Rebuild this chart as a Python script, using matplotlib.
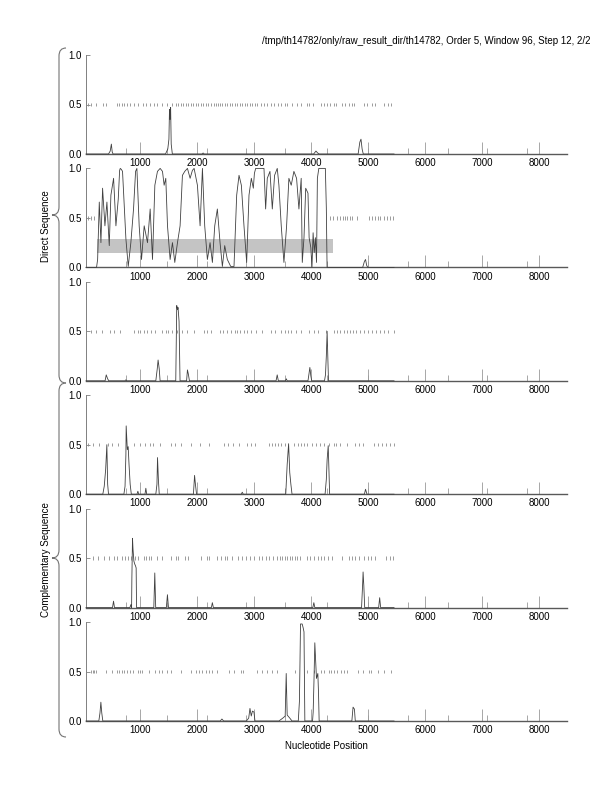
#!/usr/bin/env python3
"""Six-frame coding potential plot (direct + complementary strands)."""
import matplotlib

matplotlib.use("Agg")
import matplotlib.pyplot as plt
from matplotlib.path import Path
from matplotlib.patches import PathPatch

plt.rcParams["font.family"] = ["Liberation Sans", "DejaVu Sans"]

TITLE = "/tmp/th14782/only/raw_result_dir/th14782, Order 5, Window 96, Step 12, 2/2"
XLABEL = "Nucleotide Position"
XLIM = (45, 8485)
MAJOR_TICKS = [1000, 2000, 3000, 4000, 5000, 6000, 7000, 8000]
MINOR_TICKS = [750, 1460, 2160, 2860, 3540, 4280, 4990, 5690, 6390, 7090, 7790]
Y_TICKS = [0.0, 0.5, 1.0]

# frame 1 (direct)
F1_X = [45, 440, 470, 490, 505, 520, 1440, 1480, 1500, 1510, 1520, 1530, 1540, 1560,
        2080, 2100, 2120, 4040, 4080, 4110, 4140, 4820, 4850, 4870, 4890, 4910, 5450]
F1_Y = [0, 0, 0.03, 0.10, 0.02, 0, 0, 0.05, 0.15, 0.45, 0.35, 0.47, 0.10, 0,
        0, 0.01, 0, 0, 0.03, 0.01, 0, 0, 0.12, 0.15, 0.05, 0, 0]
F1_STOPS = [73, 132, 219, 336, 395, 587, 628, 669, 716, 762, 809, 891, 961, 1037, 1095,
            1171, 1241, 1299, 1387, 1475, 1562, 1621, 1661, 1708, 1755, 1796, 1837, 1883,
            1930, 1971, 2012, 2058, 2105, 2146, 2187, 2234, 2292, 2327, 2362, 2397, 2438,
            2479, 2525, 2572, 2613, 2654, 2701, 2747, 2788, 2829, 2876, 2922, 2963, 3004,
            3051, 3109, 3168, 3226, 3284, 3343, 3413, 3471, 3530, 3576, 3664, 3751, 3821,
            3927, 3955, 4032, 4171, 4218, 4277, 4335, 4393, 4440, 4539, 4597, 4656, 4714,
            4743, 4918, 4977, 5064, 5123, 5269, 5339, 5397]

# frame 2 (direct) - the predicted coding region
F2_X = [45, 230, 249, 278, 307, 336, 377, 412, 453, 482, 529, 570, 611, 635, 646, 665,
        686, 745, 786, 832, 879, 915, 938, 978, 1019, 1066, 1124, 1171, 1212, 1253, 1299,
        1346, 1387, 1416, 1445, 1475, 1521, 1562, 1603, 1650, 1696, 1737, 1778, 1825,
        1872, 1912, 1942, 2000, 2047, 2088, 2128, 2175, 2222, 2263, 2304, 2350, 2397,
        2438, 2479, 2525, 2584, 2642, 2689, 2730, 2771, 2817, 2864, 2905, 2946, 2981,
        3000, 3022, 3168, 3197, 3226, 3273, 3314, 3354, 3401, 3430, 3471, 3518, 3565,
        3605, 3646, 3693, 3740, 3781, 3821, 3840, 3870, 3900, 3940, 3960, 3990, 4010,
        4030, 4050, 4070, 4090, 4105, 4130, 4245, 4262, 4275, 4900, 4930, 4950, 4970,
        4990, 5450]
F2_Y = [0, 0, 0.08, 0.66, 0.25, 0.80, 0.42, 0.66, 0.22, 0.73, 0.90, 0.42, 0.69, 0.98, 1.0,
        0.99, 0.97, 0.29, 0.01, 0.25, 0.59, 0.97, 1.0, 0.42, 0.08, 0.42, 0.25, 0.59, 0.08,
        0.83, 0.97, 1.0, 0.97, 0.83, 0.90, 0.42, 0.08, 0.25, 0.05, 0.25, 0.42, 0.93, 0.97,
        1.0, 0.90, 0.98, 1.0, 0.83, 0.42, 1.0, 0.42, 0.08, 0.25, 0.05, 0.42, 0.59, 0.25,
        0.01, 0.22, 0.08, 0.01, 0.01, 0.73, 0.93, 0.83, 0.42, 0.05, 0.73, 0.90, 0.80,
        0.95, 1.0, 1.0, 0.59, 0.90, 0.97, 0.59, 0.93, 1.0, 0.83, 0.42, 0.05, 0.42,
        0.90, 0.83, 0.97, 0.90, 0.59, 0.90, 0.05, 0.30, 0.80, 0.75, 0.30, 0.20, 0.0,
        0.35, 0.15, 0.30, 0.05, 0.90, 1.0, 1.0, 0.60, 0.0, 0, 0.06, 0.08, 0.02,
        0, 0]
F2_STOPS = [73, 132, 190, 4323, 4381, 4451, 4510, 4551, 4586, 4626, 4673, 4714, 4802,
            5006, 5064, 5123, 5164, 5210, 5269, 5327, 5385, 5432]
F2_GENE = (231, 4378)
F2_GENE_Y = (0.15, 0.29)

# frame 3 (direct)
F3_X = [45, 380, 400, 425, 445, 730, 745, 760, 1270, 1295, 1310, 1330, 1345, 1620, 1637,
        1650, 1660, 1678, 1695, 1810, 1825, 1840, 1860, 3380, 3400, 3420, 3545, 3560,
        3575, 3940, 3960, 3973, 3990, 4005, 4230, 4247, 4262, 4276, 4290, 4300, 5450]
F3_Y = [0, 0, 0.06, 0.02, 0, 0, 0.01, 0, 0, 0.12, 0.21, 0.12, 0, 0, 0.76,
        0.72, 0.74, 0.60, 0, 0, 0.11, 0.07, 0, 0, 0.06, 0, 0, 0.02,
        0, 0, 0.08, 0.135, 0.05, 0, 0, 0.06, 0.25, 0.50, 0.20, 0, 0]
F3_STOPS = [131, 219, 318, 470, 540, 639, 890, 949, 995, 1054, 1124, 1182, 1252, 1386,
            1445, 1486, 1561, 1649, 1737, 1812, 1941, 2116, 2174, 2244, 2396, 2455, 2525,
            2595, 2653, 2700, 2747, 2817, 2875, 2945, 3021, 3138, 3284, 3354, 3459, 3529,
            3587, 3646, 3722, 3809, 3955, 4043, 4113, 4264, 4405, 4451, 4510, 4568, 4626,
            4685, 4732, 4790, 4848, 4918, 4988, 5064, 5140, 5210, 5269, 5339, 5444]

# frame 4 (complementary)
F4_X = [45, 340, 365, 390, 411, 425, 440, 710, 730, 745, 750, 770, 785, 800, 820, 840,
        940, 955, 970, 1080, 1095, 1110, 1270, 1290, 1300, 1315, 1330, 1930, 1950, 1965,
        1985, 2770, 2787, 2805, 3550, 3575, 3600, 3620, 3640, 3660, 4240, 4262, 4276,
        4295, 4305, 4320, 4930, 4950, 4975, 5450]
F4_Y = [0, 0, 0.08, 0.25, 0.50, 0.10, 0, 0, 0.08, 0.40, 0.69, 0.45, 0.48, 0.30, 0.10, 0,
        0, 0.03, 0, 0, 0.06, 0, 0, 0.10, 0.37, 0.15, 0, 0, 0.19, 0.10,
        0, 0, 0.02, 0, 0, 0.30, 0.51, 0.22, 0.10, 0, 0, 0.15, 0.35,
        0.49, 0.30, 0, 0, 0.05, 0, 0]
F4_STOPS = [73, 160, 277, 423, 493, 598, 890, 995, 1077, 1170, 1229, 1346, 1532, 1602,
            1707, 1883, 2046, 2204, 2466, 2536, 2630, 2729, 2875, 2945, 3003, 3254, 3313,
            3360, 3412, 3459, 3529, 3692, 3762, 3821, 3868, 3926, 4014, 4072, 4148, 4218,
            4305, 4393, 4440, 4498, 4627, 4773, 4831, 4907, 5093, 5163, 5239, 5315, 5385,
            5444]

# frame 5 (complementary)
F5_X = [45, 510, 528, 545, 815, 832, 845, 850, 861, 870, 885, 900, 915, 925, 932, 1235,
        1252, 1268, 1455, 1474, 1492, 2245, 2262, 2280, 4025, 4043, 4060, 4880, 4900,
        4907, 4920, 4935, 5180, 5198, 5215, 5450]
F5_Y = [0, 0, 0.065, 0, 0, 0.03, 0, 0.30, 0.70, 0.59, 0.47, 0.44, 0.42, 0.40, 0, 0,
        0.35, 0, 0, 0.13, 0, 0, 0.05, 0, 0, 0.05, 0, 0, 0.25,
        0.36, 0.22, 0, 0, 0.10, 0, 0]
F5_STOPS = [160, 248, 353, 452, 540, 587, 668, 727, 785, 832, 902, 960, 1054, 1094,
            1153, 1182, 1299, 1386, 1532, 1620, 1661, 1777, 1836, 2058, 2163, 2204, 2350,
            2408, 2478, 2525, 2612, 2712, 2787, 2846, 2922, 2992, 3079, 3138, 3196, 3254,
            3330, 3400, 3447, 3488, 3529, 3576, 3622, 3663, 3704, 3751, 3798, 3926, 3984,
            4043, 4113, 4171, 4229, 4288, 4364, 4539, 4656, 4714, 4773, 4831, 4918, 4988,
            5047, 5123, 5315, 5374, 5432]

# frame 6 (complementary)
F6_X = [45, 270, 290, 306, 322, 340, 2400, 2430, 2460, 2860, 2900, 2922, 2945, 2965,
        2992, 3010, 3430, 3500, 3540, 3558, 3575, 3620, 3660, 3770, 3790, 3800, 3809,
        3838, 3856, 3870, 3885, 4020, 4031, 4045, 4060, 4089, 4113, 4125, 4136, 4710,
        4731, 4755, 4770, 5450]
F6_Y = [0, 0, 0.08, 0.19, 0.08, 0, 0, 0.02, 0, 0, 0.03, 0.127, 0.05, 0.10,
        0.09, 0, 0, 0.03, 0.05, 0.48, 0.06, 0.03, 0, 0, 0.20, 0.60, 0.98,
        0.98, 0.94, 0.90, 0, 0, 0.09, 0.40, 0.79, 0.43, 0.48, 0.28, 0, 0,
        0.14, 0.12, 0, 0]
F6_STOPS = [131, 160, 190, 219, 394, 493, 587, 628, 668, 715, 773, 820, 861, 949, 995,
            1036, 1153, 1252, 1328, 1386, 1462, 1544, 1719, 1883, 1970, 2028, 2087, 2145,
            2204, 2262, 2338, 2554, 2642, 2758, 2805, 3050, 3138, 3225, 3313, 3400, 3704,
            3926, 4043, 4171, 4229, 4305, 4346, 4393, 4451, 4521, 4568, 4626, 4813, 4907,
            5006, 5047, 5163, 5268, 5397]

FRAMES = [(F1_X, F1_Y, F1_STOPS), (F2_X, F2_Y, F2_STOPS), (F3_X, F3_Y, F3_STOPS),
          (F4_X, F4_Y, F4_STOPS), (F5_X, F5_Y, F5_STOPS), (F6_X, F6_Y, F6_STOPS)]

W, H = 612, 792


def px_rect(left, top, right, bottom):
    return [left / W, 1 - bottom / H, (right - left) / W, (bottom - top) / H]


def brace(fig, top, bottom, mid):
    xv, xt, xe = 59, 52, 66
    verts = [(xe, top), (xv, top), (xv, top + 8), (xv, mid - 8), (xv, mid), (xt, mid),
             (xv, mid), (xv, mid + 8), (xv, bottom - 8), (xv, bottom), (xe, bottom)]
    codes = [Path.MOVETO, Path.CURVE3, Path.CURVE3, Path.LINETO, Path.CURVE3, Path.CURVE3,
             Path.CURVE3, Path.CURVE3, Path.LINETO, Path.CURVE3, Path.CURVE3]
    verts = [(x / W, 1 - y / H) for x, y in verts]
    fig.add_artist(PathPatch(Path(verts, codes), transform=fig.transFigure,
                             fill=False, ec="0.45", lw=0.8))


fig = plt.figure(figsize=(W / 100, H / 100), dpi=100)

for k, (xs, ys, stops) in enumerate(FRAMES):
    bottom = 154 + 113.4 * k
    ax = fig.add_axes(px_rect(86, bottom - 99, 567, bottom))
    ax.set_xlim(*XLIM)
    ax.set_ylim(0, 1)
    for s in ("top", "right"):
        ax.spines[s].set_visible(False)
    ax.spines["left"].set_color("0.5")
    ax.spines["left"].set_linewidth(0.7)
    ax.spines["bottom"].set_color("0.35")
    ax.spines["bottom"].set_linewidth(1.0)

    if k == 1:
        ax.axhspan(F2_GENE_Y[0], F2_GENE_Y[1], xmin=(F2_GENE[0] - XLIM[0]) / (XLIM[1] - XLIM[0]),
                   xmax=(F2_GENE[1] - XLIM[0]) / (XLIM[1] - XLIM[0]),
                   color="#c4c4c4", lw=0, zorder=1)

    ax.vlines(stops, 0.482, 0.518, color="0.55", lw=0.6, zorder=2)
    ax.plot(xs, ys, color="0.25", lw=0.6, zorder=3, clip_on=False)

    ax.set_xticks(MAJOR_TICKS)
    ax.set_xticks(MINOR_TICKS, minor=True)
    ax.set_yticks(Y_TICKS)
    ax.set_yticklabels([f"{v:.1f}" for v in Y_TICKS])
    ax.tick_params(axis="x", which="major", direction="in", length=9, width=0.6,
                   color="0.6", labelsize=7, pad=3)
    ax.tick_params(axis="x", which="minor", direction="in", length=4.5, width=0.6,
                   color="0.6")
    ax.tick_params(axis="y", direction="in", length=3, width=0.6, color="0.5",
                   labelsize=7, pad=3)

fig.text(591 / W, 1 - 41 / H, TITLE, ha="right", va="center", fontsize=7)
fig.text(326 / W, 1 - 746 / H, XLABEL, ha="center", va="center", fontsize=7)
fig.text(46 / W, 1 - 226 / H, "Direct Sequence", rotation=90, ha="center", va="center",
         fontsize=7)
fig.text(46 / W, 1 - 560 / H, "Complementary Sequence", rotation=90, ha="center",
         va="center", fontsize=7)

brace(fig, 48, 383, 215)
brace(fig, 383, 737, 558)

fig.savefig("out.png", dpi=100)
